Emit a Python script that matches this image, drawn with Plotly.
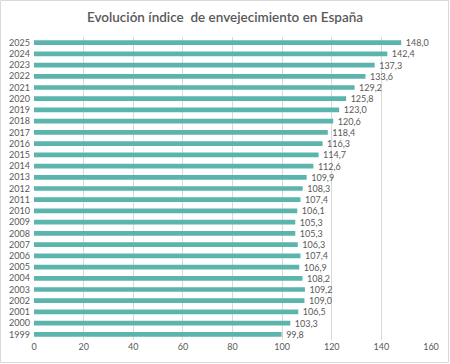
import plotly.graph_objects as go

years = ["1999", "2000", "2001", "2002", "2003", "2004", "2005", "2006", "2007",
         "2008", "2009", "2010", "2011", "2012", "2013", "2014", "2015", "2016",
         "2017", "2018", "2019", "2020", "2021", "2022", "2023", "2024", "2025"]
values = [99.8, 103.3, 106.5, 109.0, 109.2, 108.2, 106.9, 107.4, 106.3,
          105.3, 105.3, 106.1, 107.4, 108.3, 109.9, 112.6, 114.7, 116.3,
          118.4, 120.6, 123.0, 125.8, 129.2, 133.6, 137.3, 142.4, 148.0]
x_ticks = [0, 20, 40, 60, 80, 100, 120, 140, 160]
title = "Evolución índice  de envejecimiento en España"

labels = [f"{v:.1f}".replace(".", ",") for v in values]

fig = go.Figure(go.Bar(
    x=values, y=years, orientation="h",
    marker=dict(color="#5BB5AC", line=dict(width=0)),
    text=labels, texttemplate="\u2002%{text}", textposition="outside", constraintext="none",
    textfont=dict(size=9, color="#595959", family="Lato"),
    cliponaxis=False,
))

W, H = 450, 364
ml, mr, mt, mb = 34, 19, 37, 24
pw, ph = W - ml - mr, H - mt - mb

fig.update_layout(
    width=W, height=H,
    margin=dict(l=ml, r=mr, t=mt, b=mb, pad=0, autoexpand=False),
    paper_bgcolor="white", plot_bgcolor="white",
    bargap=0.58,
    showlegend=False,
    title=dict(text=title, x=0.5, xanchor="center", y=1 - 17 / H, yanchor="middle",
               font=dict(family="Lato", size=13.5, color="#595959", weight=600)),
    xaxis=dict(range=[0, 160], tickvals=x_ticks, showgrid=True, gridcolor="#D9D9D9",
               gridwidth=1, zeroline=False, showline=False, ticks="", automargin=False,
               tickfont=dict(family="Lato", size=9, color="#595959")),
    yaxis=dict(type="category", categoryorder="array", categoryarray=years,
               showgrid=False, zeroline=False, showline=False, ticks="",
               automargin=False, ticklabelstandoff=3,
               tickfont=dict(family="Lato", size=9, color="#595959")),
    shapes=[dict(type="rect", xref="paper", yref="paper",
                 x0=-(ml - 0.5) / pw, x1=1 + (mr - 1.5) / pw,
                 y0=-(mb - 1.5) / ph, y1=1 + (mt - 0.5) / ph,
                 line=dict(color="#D9D9D9", width=1), fillcolor="rgba(0,0,0,0)",
                 layer="below")],
)

fig.write_html("out.html", config={"displayModeBar": False},
               post_script="document.body.style.margin='0';")
